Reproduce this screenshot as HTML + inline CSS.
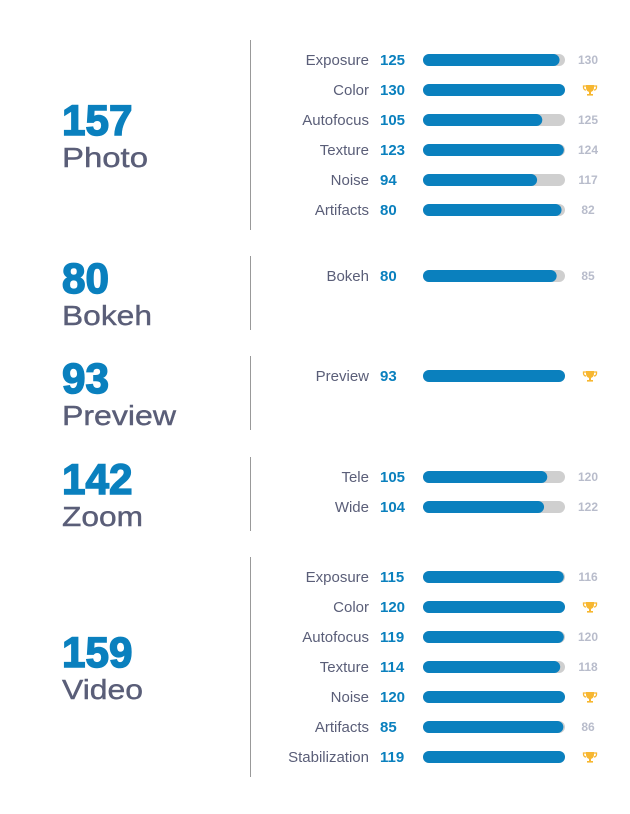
<!DOCTYPE html>
<html><head><meta charset="utf-8">
<style>
html,body{margin:0;padding:0;background:#fff;}
svg{display:block;font-family:"Liberation Sans",Arial,sans-serif;}
</style></head>
<body>
<svg id="chart" width="630" height="814" viewBox="0 0 630 814" xmlns="http://www.w3.org/2000/svg"></svg>
<script>
const sectionNames = ["Photo","Bokeh","Preview","Zoom","Video"];
const sectionScores = [157,80,93,142,159];
const photoLabels = ["Exposure","Color","Autofocus","Texture","Noise","Artifacts"];
const photoValues = [125,130,105,123,94,80];
const photoBest = [130,130,125,124,117,82];
const bokehLabels = ["Bokeh"];
const bokehValues = [80];
const bokehBest = [85];
const previewLabels = ["Preview"];
const previewValues = [93];
const previewBest = [93];
const zoomLabels = ["Tele","Wide"];
const zoomValues = [105,104];
const zoomBest = [120,122];
const videoLabels = ["Exposure","Color","Autofocus","Texture","Noise","Artifacts","Stabilization"];
const videoValues = [115,120,119,114,120,85,119];
const videoBest = [116,120,120,118,120,86,119];

const sections = [
 {labels:photoLabels, values:photoValues, best:photoBest},
 {labels:bokehLabels, values:bokehValues, best:bokehBest},
 {labels:previewLabels, values:previewValues, best:previewBest},
 {labels:zoomLabels, values:zoomValues, best:zoomBest},
 {labels:videoLabels, values:videoValues, best:videoBest}
];
// layout
const firstRowY = [60,276,376,477,577];
const rowGap = 30;
const barX0 = 423, barW = 142, barH = 12;
const xScale = (v, best) => barX0 + (v / best) * barW;
const scoreWidthPerDigit = 23.5;
const nameCharWidth = {"Photo":86,"Bokeh":90,"Preview":114,"Zoom":81,"Video":81};

const svg = document.getElementById('chart');
const NS = "http://www.w3.org/2000/svg";
function mk(tag, attrs, txt){
  const e = document.createElementNS(NS, tag);
  for (const k in attrs) e.setAttribute(k, attrs[k]);
  if (txt !== undefined) e.textContent = txt;
  svg.appendChild(e);
  return e;
}
function trophy(cx, cy){
  const g = document.createElementNS(NS,'g');
  
  
  g.innerHTML = '<path d="M'+(cx-4)+' '+(cy-5)+'h8v3a4 4 0 0 1-8 0z" fill="#f7b731"/>'+
    '<path d="M'+(cx-4)+' '+(cy-4)+'h-2.5v1.5a2.5 2.5 0 0 0 2.5 2.5M'+(cx+4)+' '+(cy-4)+'h2.5v1.5a2.5 2.5 0 0 1-2.5 2.5" fill="none" stroke="#f7b731" stroke-width="1.3"/>'+
    '<rect x="'+(cx-1)+'" y="'+(cy+1.5)+'" width="2" height="2.5" fill="#f7b731"/>'+
    '<rect x="'+(cx-3)+'" y="'+(cy+4)+'" width="6" height="1.6" fill="#f7b731"/>';
  svg.appendChild(g);
}

sections.forEach((s, si) => {
  const y0 = firstRowY[si];
  const n = s.labels.length;
  const yLast = y0 + (n-1)*rowGap;
  const top = y0 - 20, bottom = Math.max(yLast + 20, y0 + 54);
  const div = mk('line',{x1:250.5,x2:250.5,y1:top,y2:bottom,stroke:'#999',"stroke-width":1});
  
  
  const mid = (top + bottom)/2;
  const scoreNum = String(sectionScores[si]);
  const st = mk('text',{x:62,y:mid,"font-size":43,"font-weight":"bold",fill:"#0a80be",stroke:"#0a80be","stroke-width":1.5,textLength:scoreNum.length*scoreWidthPerDigit,lengthAdjust:"spacingAndGlyphs"}, scoreNum);
  
  
  const nm = sectionNames[si];
  const nt = mk('text',{x:62,y:mid+32,"font-size":28,fill:"#5a5e78",stroke:"#5a5e78","stroke-width":0.4,textLength:nameCharWidth[nm] || nm.length*17,lengthAdjust:"spacingAndGlyphs"}, nm);
  
  

  s.labels.forEach((lab, i) => {
    const y = y0 + i*rowGap;
    const v = s.values[i], b = s.best[i];
    const lt = mk('text',{x:369,y:y+5,"font-size":15,fill:"#5a5e78","text-anchor":"end"}, lab);
    
    
    const vt = mk('text',{x:380,y:y+5,"font-size":15,"font-weight":"bold",fill:"#0a80be"}, String(v));
    
    
    const tr = mk('rect',{x:barX0,y:y-barH/2,width:barW,height:barH,rx:6,fill:"#cfcfcf"});
    
    
    const bar = mk('rect',{x:barX0,y:y-barH/2,width:xScale(v,b)-barX0,height:barH,rx:6,fill:"#0a80be"});
    
    
    if (v >= b) {
      trophy(590, y);
    } else {
      const bt = mk('text',{x:588,y:y+4,"font-size":12,"font-weight":"bold",fill:"#b8bccb","text-anchor":"middle"}, String(b));
      
      
    }
  });
});
</script>
</body></html>
